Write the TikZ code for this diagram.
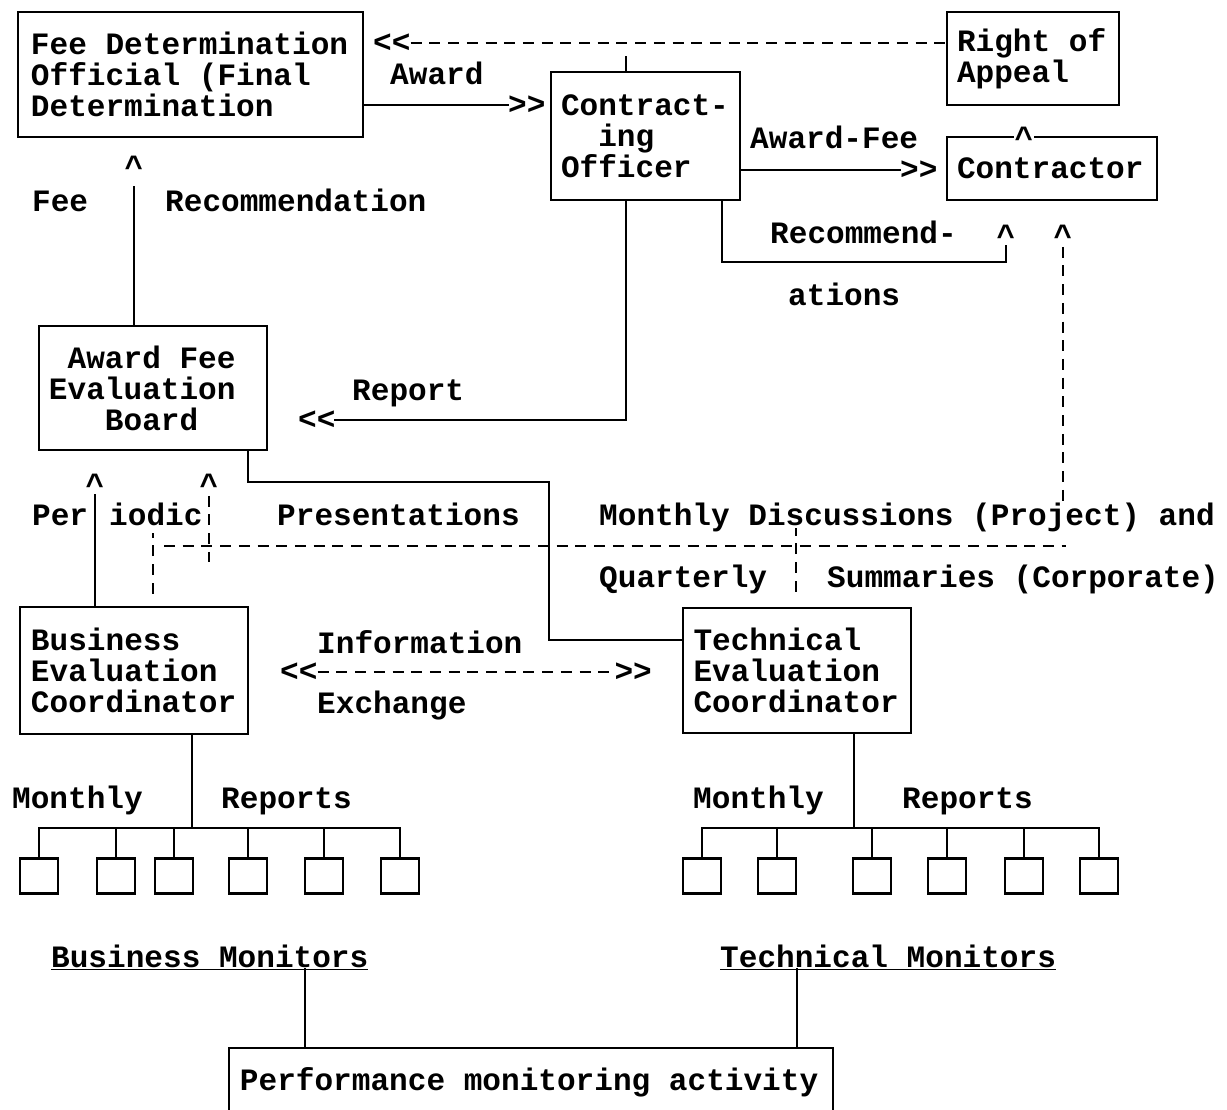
\documentclass[tikz,border=0pt]{standalone}
\usepackage{fontspec}
\setmonofont{Liberation Mono}

\tikzset{
  box/.style={draw, line width=2.8bp, inner ysep=0pt, align=left, execute at begin node={\spaceskip=0pt\xspaceskip=0pt}},
  lbl/.style={inner sep=0pt, anchor=base west},
  tip/.style={inner sep=0pt},
  link/.style={line width=2.8bp, line cap=rect},
  dlink/.style={line width=2.8bp, dash pattern=on 11bp off 7.7bp},
  monbox/.style={draw, line width=2.8bp, minimum width=38bp, minimum height=35bp, inner sep=0pt}
}

\begin{document}
\begin{tikzpicture}[x=1bp, y=-1bp, font=\ttfamily\bfseries\fontsize{31.2}{31}\selectfont]
    \useasboundingbox (0,0) rectangle (1227,1110);

    \node[box, inner xsep=13bp, text width=319bp, minimum height=125bp] (fdo) at (190.5,74.5) {Fee Determination\\Official (Final\\Determination};
    \node[box, inner xsep=10bp, text width=152bp, minimum height=93bp] (appeal) at (1033,58.5) {Right of\\Appeal};
    \node[box, inner xsep=10bp, text width=169bp, minimum height=128bp] (co) at (645.5,136) {Contract-\\\hphantom{Co}ing\\Officer};
    \node[box, inner xsep=10bp, text width=190bp, minimum height=63bp] (contractor) at (1052,168.5) {Contractor};
    \node[box, inner xsep=10bp, text width=208bp, minimum height=124bp] (afeb) at (153,388) {\hphantom{A}Award Fee\\Evaluation\\\hphantom{Aaa}Board};
    \node[box, inner xsep=11bp, text width=206bp, minimum height=127bp] (bec) at (134,670.5) {Business\\Evaluation\\Coordinator};
    \node[box, inner xsep=10.5bp, text width=207bp, minimum height=125bp] (tec) at (797,670.5) {Technical\\Evaluation\\Coordinator};
    \node[box, inner xsep=11bp, text width=582bp, minimum height=68bp] (perf) at (531,1082) {Performance monitoring activity};

    \node[tip, anchor=west] (aptip) at (373,43) {<<};
    \node[tip, anchor=west] (awtip) at (508,105) {>>};
    \node[tip, anchor=west] (cftip) at (900,170) {>>};
    \node[tip, anchor=west] (rptip) at (298,420) {<<};
    \node[tip, anchor=west] (ixl) at (280,672) {<<};
    \node[tip, anchor=east] (ixr) at (652,672) {>>};
    \node[tip, anchor=north] (ftip) at (134,156) {\textasciicircum};
    \node[tip, anchor=north, fill=white, inner xsep=1bp] (cttip) at (1024,127) {\textasciicircum};
    \node[tip, anchor=north] (rctip) at (1006,225) {\textasciicircum};
    \node[tip, anchor=north] (mdtip) at (1063,225) {\textasciicircum};
    \node[tip, anchor=north] (p1tip) at (95,474) {\textasciicircum};
    \node[tip, anchor=north] (p2tip) at (209,474) {\textasciicircum};

    \node[lbl] (awlbl) at (390,84) {Award};
    \node[lbl] (feelbl) at (32,211) {Fee};
    \node[lbl] (reclbl) at (165,211) {Recommendation};
    \node[lbl] (aflbl) at (750,148) {Award-Fee};
    \node[lbl] (rc1lbl) at (770,243) {Recommend-};
    \node[lbl] (rc2lbl) at (788,305) {ations};
    \node[lbl] (rplbl) at (352,400) {Report};
    \node[lbl] (perlbl) at (32,525) {Per};
    \node[lbl] (iodlbl) at (109,525) {iodic};
    \node[lbl] (prlbl) at (277,525) {Presentations};
    \node[lbl] (mdlbl) at (599,525) {Monthly Discussions (Project) and};
    \node[lbl] (qlbl) at (599,587) {Quarterly};
    \node[lbl] (slbl) at (827,587) {Summaries (Corporate)};
    \node[lbl] (inlbl) at (317,653) {Information};
    \node[lbl] (exlbl) at (317,713) {Exchange};
    \node[lbl] (bmlbl) at (12,808) {Monthly};
    \node[lbl] (brlbl) at (221,808) {Reports};
    \node[lbl] (tmlbl) at (693,808) {Monthly};
    \node[lbl] (trlbl) at (902,808) {Reports};
    \node[lbl] (bmon) at (51,967) {\underline{Business Monitors}};
    \node[lbl] (tmon) at (720,967) {\underline{Technical Monitors}};

    \coordinate (cot) at (626,57);
    \coordinate (rcb) at (722,262);
    \coordinate (ab) at (248,482);
    \coordinate (tb) at (549,640);
    \coordinate (bv) at (153,546);
    \coordinate (tv) at (796,546);
    \coordinate (pe) at (1066,546);
    \coordinate (pv) at (209,562);
    \coordinate (bbus) at (192,828);
    \coordinate (tbus) at (854,828);
    \coordinate (bmc) at (305,970);
    \coordinate (tmc) at (797,970);

    \draw[dlink] (aptip.east) -- (appeal.west |- aptip.east);
    \draw[link] (cot) -- (cot |- co.north);
    \draw[link] (fdo.east |- awtip.west) -- (awtip.west);
    \draw[link] (co.east |- cftip.west) -- (cftip.west);
    \draw[link] (cot |- co.south) |- (rptip.east);
    \draw[link] (rcb |- co.south) -- (rcb) -| (rctip.south);
    \draw[link] (afeb.north -| ftip.south) -- ([yshift=-10bp]ftip.south);
    \draw[link] (ab |- afeb.south) -- (ab) -| (tb) -- (tb -| tec.west);
    \draw[link] (bec.north -| p1tip.south) -- (p1tip.south);
    \draw[dlink] (p2tip.south) -- (pv);
    \draw[dlink] ([yshift=12bp]bec.north -| bv) -- ([yshift=13bp]bv);
    \draw[dlink] ([yshift=15bp]tec.north -| tv) -- ([yshift=18bp]tv);
    \draw[dlink] ([xshift=11bp]bv) -- (pe);
    \draw[dlink] (mdtip.south) -- (mdtip.south |- mdlbl.north);
    \draw[dlink] (ixl.east) -- (ixr.west);

    \draw[link] (bec.south -| bbus) -- (bbus);
    \foreach \x [count=\i] in {39,116,174,248,324,400} {
        \node[monbox] (bm\i) at (\x,876) {};
        \draw[link] (bm\i.north) -- (bm\i.north |- bbus);
    }
    \draw[link] (bm1.north |- bbus) -- (bm6.north |- bbus);

    \draw[link] (tec.south -| tbus) -- (tbus);
    \foreach \x [count=\i] in {702,777,872,947,1024,1099} {
        \node[monbox] (tm\i) at (\x,876) {};
        \draw[link] (tm\i.north) -- (tm\i.north |- tbus);
    }
    \draw[link] (tm1.north |- tbus) -- (tm6.north |- tbus);

    \draw[link] (bmon.south -| bmc) -- (perf.north -| bmc);
    \draw[link] (tmon.south -| tmc) -- (perf.north -| tmc);
\end{tikzpicture}
\end{document}
